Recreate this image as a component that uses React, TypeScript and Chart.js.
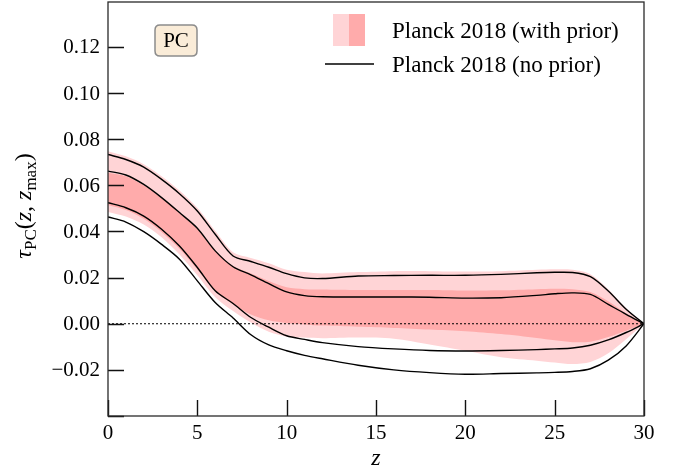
import React, { useEffect, useRef } from "react";
import { Chart, registerables } from "chart.js";

Chart.register(...registerables);

// redshift grid
const zGrid = [0, 1, 2, 3, 4, 5, 6, 7, 8, 9, 10, 11, 12, 14, 16, 18, 20, 22, 24, 25, 26, 27, 28, 29, 30];

// Planck 2018 (with prior): 95% and 68% bands
const withPriorHi95 = [0.0748, 0.0726, 0.0692, 0.064, 0.0578, 0.0503, 0.0403, 0.031, 0.0285, 0.0262, 0.0234, 0.0224, 0.0218, 0.0224, 0.0228, 0.0228, 0.0226, 0.0228, 0.0234, 0.0236, 0.0234, 0.0215, 0.015, 0.0068, 0];
const withPriorLo95 = [0.0485, 0.0465, 0.043, 0.0375, 0.03, 0.021, 0.0115, 0.0055, 0.0005, -0.0035, -0.0056, -0.006, -0.0063, -0.006, -0.0065, -0.009, -0.0117, -0.0145, -0.016, -0.0168, -0.0175, -0.0166, -0.0128, -0.0067, 0];
const withPriorHi68 = [0.0655, 0.064, 0.06, 0.0545, 0.048, 0.0412, 0.0318, 0.025, 0.0218, 0.0185, 0.0158, 0.015, 0.0148, 0.0146, 0.0146, 0.0146, 0.0144, 0.0145, 0.015, 0.0152, 0.015, 0.0138, 0.0098, 0.0045, 0];
const withPriorLo68 = [0.0515, 0.0493, 0.0455, 0.0398, 0.0325, 0.0235, 0.014, 0.0085, 0.004, 0.0015, 0.0003, -0.0003, -0.0008, -0.0013, -0.0018, -0.0025, -0.0033, -0.0045, -0.0062, -0.0072, -0.008, -0.0078, -0.0058, -0.003, 0];

// Planck 2018 (no prior): contour lines
const noPriorHi95 = [0.0734, 0.0712, 0.0679, 0.0626, 0.0564, 0.0489, 0.0388, 0.0294, 0.027, 0.0245, 0.0217, 0.0199, 0.0196, 0.0207, 0.0209, 0.021, 0.021, 0.0214, 0.0221, 0.0223, 0.0222, 0.0204, 0.0142, 0.0063, 0];
const noPriorHi68 = [0.0662, 0.0645, 0.0604, 0.0547, 0.0482, 0.0414, 0.0316, 0.0247, 0.0212, 0.0174, 0.0138, 0.0122, 0.0117, 0.0116, 0.0116, 0.0115, 0.0111, 0.0113, 0.0123, 0.013, 0.0134, 0.0127, 0.0084, 0.0041, 0];
const noPriorLo68 = [0.0525, 0.0503, 0.0467, 0.041, 0.0337, 0.0244, 0.0143, 0.0088, 0.0027, -0.0015, -0.0052, -0.0068, -0.0082, -0.0099, -0.0109, -0.0116, -0.0118, -0.0116, -0.0112, -0.0109, -0.0105, -0.0093, -0.007, -0.0038, 0];
const noPriorLo95 = [0.0463, 0.0441, 0.0399, 0.0344, 0.028, 0.0186, 0.0092, 0.0025, -0.0048, -0.0092, -0.0117, -0.0137, -0.0152, -0.018, -0.02, -0.0212, -0.0219, -0.0216, -0.0213, -0.0211, -0.0207, -0.0195, -0.0158, -0.0096, 0];

// zero reference line
const zeroLineZ = [0, 30];
const zeroLineV = [0, 0];

// ticks
const xTickVals = [0, 5, 10, 15, 20, 25, 30];
const yTickVals = [-0.02, 0, 0.02, 0.04, 0.06, 0.08, 0.1, 0.12];
const yTickMarks = [-0.04, -0.02, 0, 0.02, 0.04, 0.06, 0.08, 0.1, 0.12];

const legendLabels = ["Planck 2018 (with prior)", "Planck 2018 (no prior)"];
const boxLabel = "PC";

const LIGHT = "rgb(255,212,214)";
const DARK = "rgb(255,171,171)";
const SERIF = '"Liberation Serif", "DejaVu Serif", serif';
const TENSION = 0.3;

const pts = (zs: number[], vs: number[]) => zs.map((z, i) => ({ x: z, y: vs[i] }));

const fmtY = (v: number) => {
  const s = Math.abs(v).toFixed(2);
  return v < -1e-9 ? "\u2212" + s : s;
};

export default function App() {
  const ref = useRef<HTMLCanvasElement | null>(null);

  useEffect(() => {
    document.body.style.margin = "0";
    const canvas = ref.current;
    if (!canvas) return;

    const lineDs = (vs: number[]) => ({
      data: pts(zGrid, vs),
      borderColor: "#000",
      borderWidth: 1.4,
      pointRadius: 0,
      fill: false,
      tension: TENSION,
      order: 1,
    });

    const bandDs = (vs: number[], fill: any, color: string, order: number) => ({
      data: pts(zGrid, vs),
      borderWidth: 0,
      borderColor: "rgba(0,0,0,0)",
      backgroundColor: color,
      pointRadius: 0,
      fill,
      tension: TENSION,
      order,
    });

    const decor = {
      id: "decor",
      afterDraw(chart: any) {
        const ctx = chart.ctx as CanvasRenderingContext2D;
        const { left, right, top, bottom } = chart.chartArea;
        const xs = chart.scales.x;
        const ys = chart.scales.y;
        ctx.save();
        // ticks (inward)
        ctx.strokeStyle = "#111";
        ctx.lineWidth = 1.4;
        ctx.beginPath();
        yTickMarks.forEach((v) => {
          const y = Math.round(ys.getPixelForValue(v)) + 0.5;
          ctx.moveTo(left, y);
          ctx.lineTo(left + 16, y);
        });
        xTickVals.forEach((v) => {
          const x = Math.round(xs.getPixelForValue(v)) + 0.5;
          ctx.moveTo(x, bottom);
          ctx.lineTo(x, bottom - 16);
        });
        ctx.stroke();
        // frame
        ctx.strokeStyle = "#2a2a2a";
        ctx.lineWidth = 1.3;
        ctx.strokeRect(left, top, right - left, bottom - top);

        // tick labels
        ctx.fillStyle = "#000";
        ctx.font = `21px ${SERIF}`;
        ctx.textAlign = "right";
        ctx.textBaseline = "middle";
        yTickVals.forEach((v) => {
          ctx.fillText(fmtY(v), left - 8, ys.getPixelForValue(v) + 1);
        });
        ctx.textAlign = "center";
        ctx.textBaseline = "alphabetic";
        xTickVals.forEach((v) => {
          ctx.fillText(String(v), xs.getPixelForValue(v), 439);
        });

        // legend
        ctx.fillStyle = LIGHT;
        ctx.fillRect(333, 14, 16, 32);
        ctx.fillStyle = DARK;
        ctx.fillRect(349, 14, 16, 32);
        ctx.strokeStyle = "#000";
        ctx.lineWidth = 1.5;
        ctx.beginPath();
        ctx.moveTo(325, 64);
        ctx.lineTo(374, 64);
        ctx.stroke();
        ctx.fillStyle = "#000";
        ctx.font = `23px ${SERIF}`;
        ctx.textAlign = "left";
        ctx.fillText(legendLabels[0], 392, 38);
        ctx.fillText(legendLabels[1], 392, 72);

        // PC box
        const bx = 155, by = 25, bw = 42, bh = 31, r = 5;
        ctx.beginPath();
        ctx.moveTo(bx + r, by);
        ctx.lineTo(bx + bw - r, by);
        ctx.quadraticCurveTo(bx + bw, by, bx + bw, by + r);
        ctx.lineTo(bx + bw, by + bh - r);
        ctx.quadraticCurveTo(bx + bw, by + bh, bx + bw - r, by + bh);
        ctx.lineTo(bx + r, by + bh);
        ctx.quadraticCurveTo(bx, by + bh, bx, by + bh - r);
        ctx.lineTo(bx, by + r);
        ctx.quadraticCurveTo(bx, by, bx + r, by);
        ctx.closePath();
        ctx.fillStyle = "rgb(250,236,216)";
        ctx.fill();
        ctx.strokeStyle = "#8c8c8c";
        ctx.lineWidth = 1.5;
        ctx.stroke();
        ctx.fillStyle = "#000";
        ctx.font = `21px ${SERIF}`;
        ctx.textAlign = "center";
        ctx.fillText(boxLabel, bx + bw / 2, 47);

        // x-axis title
        ctx.font = `italic 24px ${SERIF}`;
        ctx.textAlign = "center";
        ctx.fillText("z", (left + right) / 2, 465);

        // y-axis title: tau_PC(z, z_max)
        const parts: [string, string, number][] = [
          ["\u03c4", `italic 24px ${SERIF}`, 0],
          ["PC", `17px ${SERIF}`, 5],
          ["(", `24px ${SERIF}`, 0],
          ["z", `italic 24px ${SERIF}`, 0],
          [",", `24px ${SERIF}`, 0],
          [" ", `24px ${SERIF}`, 0],
          ["z", `italic 24px ${SERIF}`, 0],
          ["max", `17px ${SERIF}`, 5],
          [")", `24px ${SERIF}`, 0],
        ];
        let total = 0;
        const widths = parts.map(([t, f]) => {
          ctx.font = f;
          const w = ctx.measureText(t).width;
          total += w;
          return w;
        });
        ctx.translate(31, 206);
        ctx.rotate(-Math.PI / 2);
        ctx.textAlign = "left";
        let cx = -total / 2;
        parts.forEach(([t, f, dy], i) => {
          ctx.font = f;
          ctx.fillText(t, cx, dy);
          cx += widths[i];
        });
        ctx.restore();
      },
    };

    const chart = new Chart(canvas, {
      type: "line",
      data: {
        datasets: [
          bandDs(withPriorHi95, "+1", LIGHT, 4),
          bandDs(withPriorLo95, false, LIGHT, 4),
          bandDs(withPriorHi68, "+1", DARK, 3),
          bandDs(withPriorLo68, false, DARK, 3),
          {
            data: pts(zeroLineZ, zeroLineV),
            borderColor: "#000",
            borderWidth: 1,
            borderDash: [2, 2],
            pointRadius: 0,
            fill: false,
            order: 2,
          },
          lineDs(noPriorHi95),
          lineDs(noPriorHi68),
          lineDs(noPriorLo68),
          lineDs(noPriorLo95),
        ] as any,
      },
      options: {
        responsive: false,
        animation: false,
        devicePixelRatio: 1,
        layout: { padding: { top: 2, right: 36, left: 0, bottom: 0 } },
        plugins: {
          legend: { display: false },
          tooltip: { enabled: false },
        },
        scales: {
          x: {
            type: "linear",
            min: 0,
            max: 30,
            ticks: { display: false },
            grid: { display: false, drawTicks: false },
            border: { display: false },
            afterFit: (s: any) => {
              s.height = 56;
            },
          },
          y: {
            type: "linear",
            min: -0.04,
            max: 0.1395,
            ticks: { display: false },
            grid: { display: false, drawTicks: false },
            border: { display: false },
            afterFit: (s: any) => {
              s.width = 108;
            },
          },
        },
      },
      plugins: [decor],
    });

    return () => chart.destroy();
  }, []);

  return (
    <canvas
      ref={ref}
      width={680}
      height={472}
      style={{ position: "absolute", left: 0, top: 0, width: 680, height: 472 }}
    />
  );
}
